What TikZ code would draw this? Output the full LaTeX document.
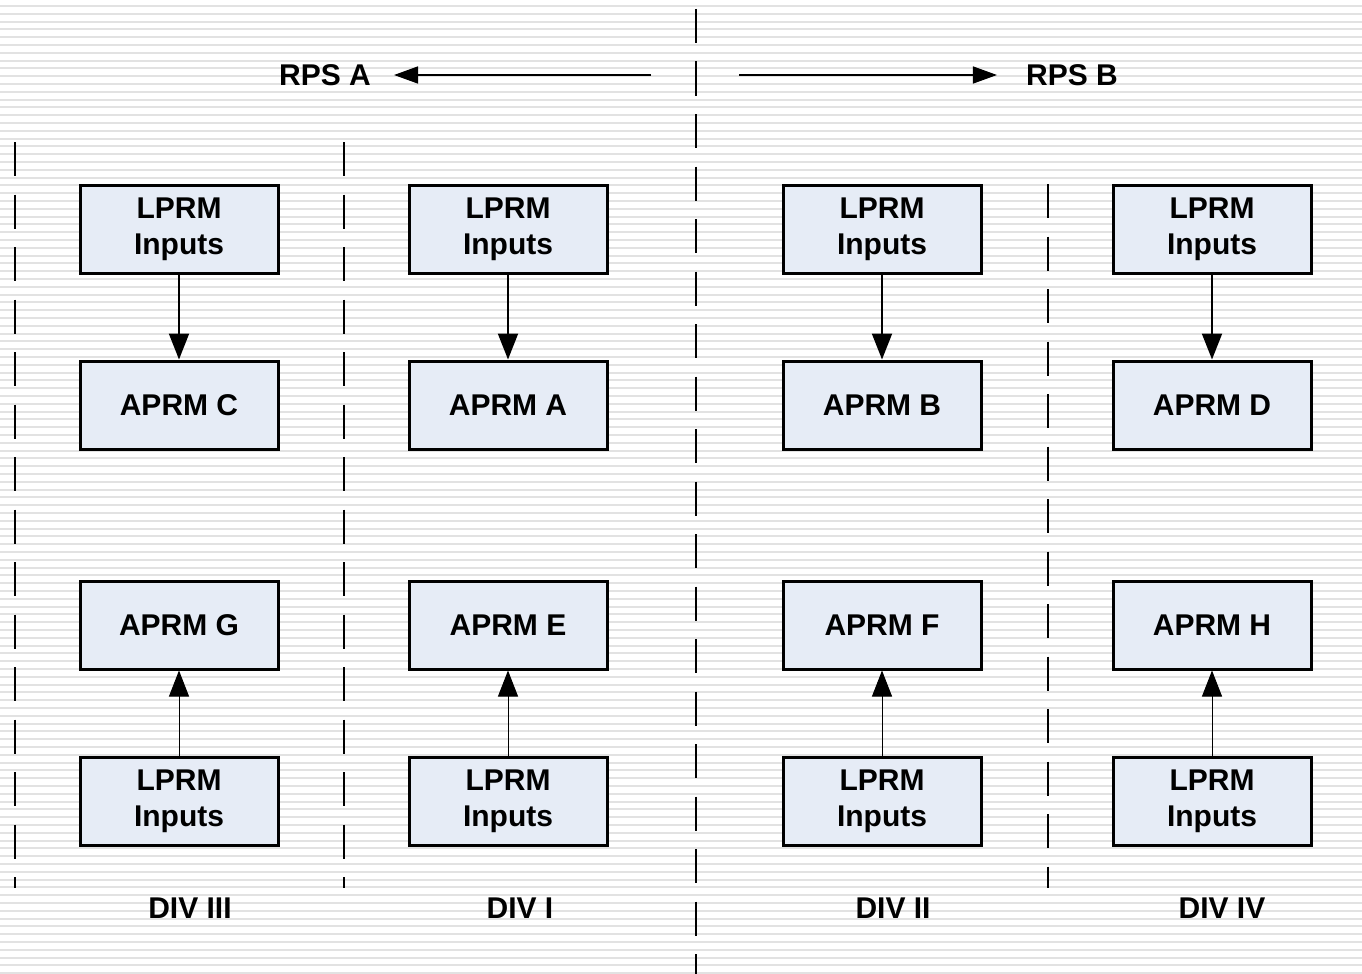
\documentclass[tikz,border=0pt]{standalone}
\usepackage{fontspec}
\setmainfont{Liberation Sans}
\usetikzlibrary{arrows.meta}
\definecolor{boxfill}{HTML}{E6ECF6}
\definecolor{stripe}{HTML}{E2E2E2}
\tikzset{
  box/.style={draw=black, fill=boxfill, line width=3pt, minimum width=198pt, minimum height=88pt,
    align=center, inner sep=0pt, font=\bfseries\fontsize{30}{36}\selectfont},
  lbl/.style={font=\bfseries\fontsize{30}{36}\selectfont, inner sep=0pt},
  divider/.style={line width=2pt, dash pattern=on 34pt off 18.5pt},
  downarrow/.style={line width=2pt, -{Triangle[length=26pt,width=20pt]}},
  uparrow/.style={line width=1pt, -{Triangle[length=26pt,width=20pt]}},
  rpsarrow/.style={line width=1.5pt, -{Triangle[length=24pt,width=17pt]}},
}
\begin{document}
\begin{tikzpicture}[x=1pt,y=-1pt]
\useasboundingbox (0,0) rectangle (1362,974);
\fill[white] (0,0) rectangle (1362,974);
\foreach \k in {0,...,124} {
  \fill[stripe] (0,{5+\k*7.8}) rectangle (1362,{7+\k*7.8});
}
% dividers
\coordinate (d1t) at (15,142);   \coordinate (d1b) at (15,888);
\coordinate (d2t) at (344,142);  \coordinate (d2b) at (344,888);
\coordinate (d3t) at (696,9);    \coordinate (d3b) at (696,974);
\coordinate (d4t) at (1048,184); \coordinate (d4b) at (1048,888);
\draw[divider] (d1t) -- (d1b);
\draw[divider] (d2t) -- (d2b);
\draw[divider] (d3t) -- (d3b);
\draw[divider] (d4t) -- (d4b);
% RPS labels
\node[lbl] (rpsA) at (325,75) {RPS A};
\node[lbl] (rpsB) at (1072,75) {RPS B};
\coordinate (ra) at (651,75);
\coordinate (rb) at (739,75);
\draw[rpsarrow] (ra) -- ([xshift=23pt]rpsA.east);
\draw[rpsarrow] (rb) -- ([xshift=-29pt]rpsB.west);
% column 1
\node[box] (l1) at (179,229) {LPRM\\Inputs};
\node[box] (aC) at (179,405) {APRM C};
\node[box] (aG) at (179,625) {APRM G};
\node[box] (l5) at (179,801) {LPRM\\Inputs};
% column 2
\node[box] (l2) at (508,229) {LPRM\\Inputs};
\node[box] (aA) at (508,405) {APRM A};
\node[box] (aE) at (508,625) {APRM E};
\node[box] (l6) at (508,801) {LPRM\\Inputs};
% column 3
\node[box] (l3) at (882,229) {LPRM\\Inputs};
\node[box] (aB) at (882,405) {APRM B};
\node[box] (aF) at (882,625) {APRM F};
\node[box] (l7) at (882,801) {LPRM\\Inputs};
% column 4
\node[box] (l4) at (1212,229) {LPRM\\Inputs};
\node[box] (aD) at (1212,405) {APRM D};
\node[box] (aH) at (1212,625) {APRM H};
\node[box] (l8) at (1212,801) {LPRM\\Inputs};
% arrows
\draw[downarrow] (l1.south) -- (aC.north);
\draw[downarrow] (l2.south) -- (aA.north);
\draw[downarrow] (l3.south) -- (aB.north);
\draw[downarrow] (l4.south) -- (aD.north);
\draw[uparrow] (l5.north) -- (aG.south);
\draw[uparrow] (l6.north) -- (aE.south);
\draw[uparrow] (l7.north) -- (aF.south);
\draw[uparrow] (l8.north) -- (aH.south);
% division labels
\node[lbl] (div3) at (190,908) {DIV III};
\node[lbl] (div1) at (520,908) {DIV I};
\node[lbl] (div2) at (893,908) {DIV II};
\node[lbl] (div4) at (1222,908) {DIV IV};
\end{tikzpicture}
\end{document}
